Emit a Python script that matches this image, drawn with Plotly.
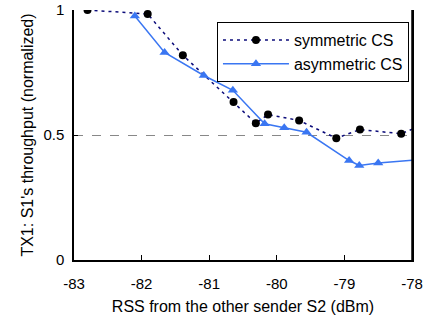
import plotly.graph_objects as go

sym_x = [-82.80, -81.91, -81.39, -80.64, -80.31, -80.13, -79.67, -79.12, -78.77, -78.16, -77.80]
sym_y = [1.0, 0.984, 0.819, 0.632, 0.547, 0.582, 0.558, 0.487, 0.522, 0.505, 0.545]

asym_x = [-82.10, -81.66, -81.08, -80.65, -80.18, -79.89, -79.56, -78.93, -78.78, -78.50, -77.70]
asym_y = [0.976, 0.830, 0.738, 0.679, 0.545, 0.529, 0.511, 0.398, 0.378, 0.388, 0.405]

x_ticks = [-83, -82, -81, -80, -79, -78]
y_ticks = [0, 0.5, 1]
y_tick_text = ["0", "0.5", "1"]

font = "Liberation Sans, Arial, sans-serif"

fig = go.Figure()
fig.add_trace(go.Scatter(
    x=sym_x, y=sym_y, mode="lines+markers", name="symmetric CS",
    line=dict(color="#0b0b7a", width=1.5, dash="3px,4px"),
    marker=dict(color="black", size=8, symbol="circle"),
))
fig.add_trace(go.Scatter(
    x=asym_x, y=asym_y, mode="lines+markers", name="asymmetric CS",
    line=dict(color="#3a76f2", width=1.5),
    marker=dict(color="#3a76f2", size=9, symbol="triangle-up"),
))

# right frame line of the plot area
fig.add_shape(type="line", xref="paper", yref="paper", x0=1, x1=1, y0=0, y1=1,
              line=dict(color="black", width=1.5), layer="above")

fig.update_layout(
    width=427, height=325,
    margin=dict(l=74, r=15, t=10, b=65, autoexpand=False),
    paper_bgcolor="white", plot_bgcolor="white",
    font=dict(family=font, size=15, color="black"),
    showlegend=True,
    legend=dict(
        x=0.991, y=0.952, xanchor="right", yanchor="top",
        bordercolor="black", borderwidth=1, bgcolor="white",
        font=dict(family=font, size=16, color="black"),
        tracegroupgap=0, itemwidth=66,
    ),
    xaxis=dict(
        range=[-83, -78], tickvals=x_ticks, ticktext=[str(v) for v in x_ticks],
        showline=True, linecolor="black", linewidth=1.5, mirror=False,
        ticks="inside", ticklen=5, tickcolor="black", showgrid=False, zeroline=False,
        automargin=False, ticklabelstandoff=9, ticklabeloverflow="allow",
        title=dict(text="RSS from the other sender S2 (dBm)", standoff=10,
                   font=dict(size=16)),
        tickfont=dict(size=15),
    ),
    yaxis=dict(
        range=[0, 1], tickvals=y_ticks, ticktext=y_tick_text,
        showline=True, linecolor="black", linewidth=1.5, mirror=True,
        ticks="inside", ticklen=4, tickcolor="black",
        showgrid=True, gridcolor="#888888", griddash="dash", gridwidth=1,
        zeroline=False, automargin=False, ticklabelstandoff=5,
        ticklabeloverflow="allow",
        title=dict(text="TX1: S1's throughput (normalized)", standoff=6,
                   font=dict(size=16)),
        tickfont=dict(size=15),
    ),
)

# remove the default page margin so the figure sits at the window's top-left
fig.write_html("out.html", config={"displayModeBar": False},
               post_script="document.body.style.margin='0';")
